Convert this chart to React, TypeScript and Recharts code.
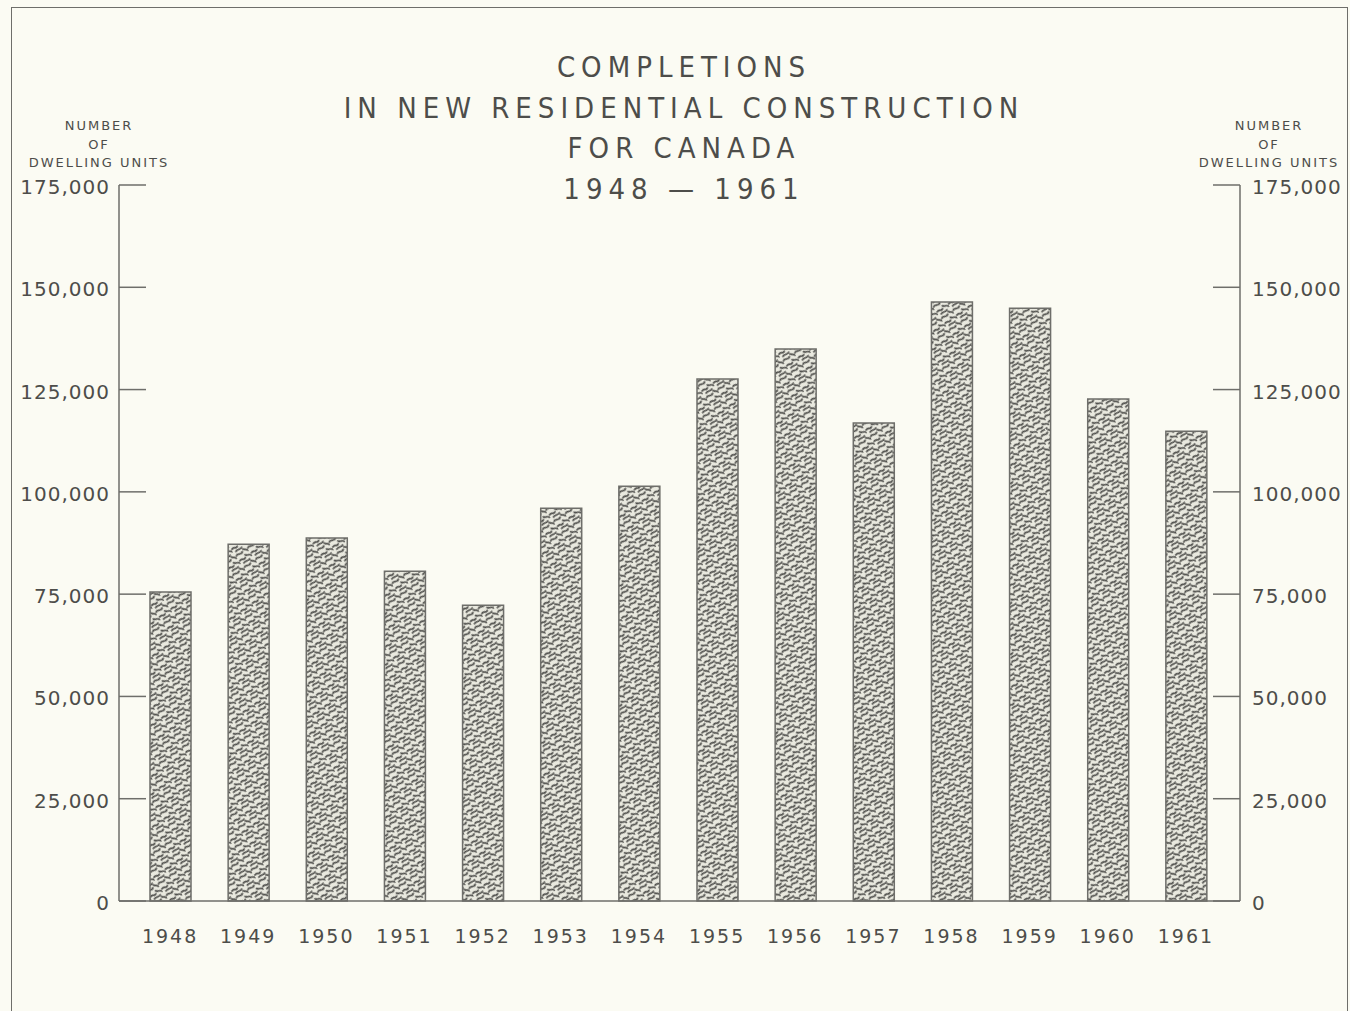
import { ComposedChart, Bar, Line, XAxis, YAxis } from 'recharts';

const years = ['1948', '1949', '1950', '1951', '1952', '1953', '1954', '1955', '1956', '1957', '1958', '1959', '1960', '1961'];
const completions = [75500, 87200, 88700, 80600, 72300, 96000, 101400, 127600, 134900, 116800, 146400, 144900, 122700, 114800];
const yTicks = [0, 25000, 50000, 75000, 100000, 125000, 150000, 175000];
const titleLines = ['COMPLETIONS', 'IN NEW RESIDENTIAL CONSTRUCTION', 'FOR CANADA', '1948 \u2014 1961'];
const axisTitle = ['NUMBER', 'OF', 'DWELLING UNITS'];

const data = years.map((year, i) => ({ year, units: completions[i] }));

const INK = '#4d4d4a';
const PAPER = '#fbfbf3';
const LINE = '#6e6e6a';
const FONT = "'DejaVu Sans', 'Liberation Sans', sans-serif";
const TITLE_FONT = "'DejaVu Sans Condensed', 'DejaVu Sans', sans-serif";

const fmt = (v: number) => v.toLocaleString('en-US');

function LeftTick(props: any) {
  const { x, y, payload } = props;
  return (
    <g>
      <line x1={x} x2={x + 27} y1={y} y2={y} stroke={LINE} strokeWidth={1.5} />
      <text x={x - 9} y={y} dy={9} textAnchor="end" fill={INK} fontSize={20} fontFamily={FONT} style={{ letterSpacing: 1 }}>
        {fmt(payload.value)}
      </text>
    </g>
  );
}

function RightTick(props: any) {
  const { x, y, payload } = props;
  return (
    <g>
      <line x1={x - 27} x2={x} y1={y} y2={y} stroke={LINE} strokeWidth={1.5} />
      <text x={x + 12} y={y} dy={9} textAnchor="start" fill={INK} fontSize={20} fontFamily={FONT} style={{ letterSpacing: 1 }}>
        {fmt(payload.value)}
      </text>
    </g>
  );
}

function YearTick(props: any) {
  const { x, y, payload } = props;
  return (
    <text x={x} y={y} dy={7} textAnchor="middle" fill={INK} fontSize={19} fontFamily={FONT} style={{ letterSpacing: 2 }}>
      {payload.value}
    </text>
  );
}

export default function App() {
  return (
    <div style={{ position: 'absolute', top: 0, left: 0, width: 1350, height: 1011, background: PAPER, overflow: 'hidden' }}>
      <div style={{ position: 'absolute', left: 11, top: 7, width: 1335, height: 1020, border: `1.5px solid ${LINE}` }} />
      <ComposedChart
        width={1350}
        height={1011}
        data={data}
        margin={{ top: 185, right: 10, bottom: 50, left: 9 }}
        style={{ position: 'absolute', top: 0, left: 0 }}
      >
        <defs>
          <pattern id="worms" width="14" height="14" patternUnits="userSpaceOnUse" patternTransform="rotate(-35)">
            <rect width="14" height="14" fill="#e9e9df" />
            <g stroke="#4f4f4c" strokeWidth={1.7} fill="none" strokeLinecap="round">
              <path d="M1 3 C3 0.5, 5 5.5, 8 3" />
              <path d="M10 1 C11.5 3.5, 12.5 2, 13.5 5" />
              <path d="M1 9 C3.5 7, 4.5 11.5, 7 9.5" />
              <path d="M8.5 7 C10 10, 12 7.5, 13.5 11" />
              <path d="M3 13 C5.5 11.5, 8 14.5, 10 12.8" />
            </g>
          </pattern>
        </defs>
        <XAxis
          dataKey="year"
          height={60}
          padding={{ left: 12, right: 15 }}
          axisLine={{ stroke: LINE, strokeWidth: 1.5 }}
          tickLine={false}
          tickMargin={29}
          tick={<YearTick />}
          interval={0}
        />
        <YAxis
          yAxisId="left"
          orientation="left"
          width={110}
          domain={[0, 175000]}
          ticks={yTicks}
          axisLine={{ stroke: LINE, strokeWidth: 1.5 }}
          tickLine={false}
          tickSize={0}
          tickMargin={0}
          tick={<LeftTick />}
        />
        <YAxis
          yAxisId="right"
          orientation="right"
          width={100}
          domain={[0, 175000]}
          ticks={yTicks}
          axisLine={{ stroke: LINE, strokeWidth: 1.5 }}
          tickLine={false}
          tickSize={0}
          tickMargin={0}
          tick={<RightTick />}
        />
        <Bar
          yAxisId="left"
          dataKey="units"
          barSize={41}
          fill="url(#worms)"
          stroke={LINE}
          strokeWidth={1.5}
          isAnimationActive={false}
        />
        <Line
          yAxisId="right"
          dataKey="units"
          stroke="none"
          dot={false}
          activeDot={false}
          legendType="none"
          isAnimationActive={false}
        />
      </ComposedChart>
      <svg width={1350} height={1011} style={{ position: 'absolute', top: 0, left: 0, pointerEvents: 'none' }}>
        {titleLines.map((t, i) => (
          <text
            key={t}
            x={684}
            y={77 + i * 40.7}
            textAnchor="middle"
            fill={INK}
            fontSize={29}
            fontFamily={TITLE_FONT}
            style={{ letterSpacing: 6 }}
          >
            {t}
          </text>
        ))}
        {[98, 1268].map((cx) =>
          axisTitle.map((t, i) => (
            <text
              key={`${cx}-${t}`}
              x={cx + 1}
              y={130 + i * 18.5}
              textAnchor="middle"
              fill={INK}
              fontSize={13}
              fontFamily={FONT}
              style={{ letterSpacing: 2 }}
            >
              {t}
            </text>
          ))
        )}
      </svg>
    </div>
  );
}
